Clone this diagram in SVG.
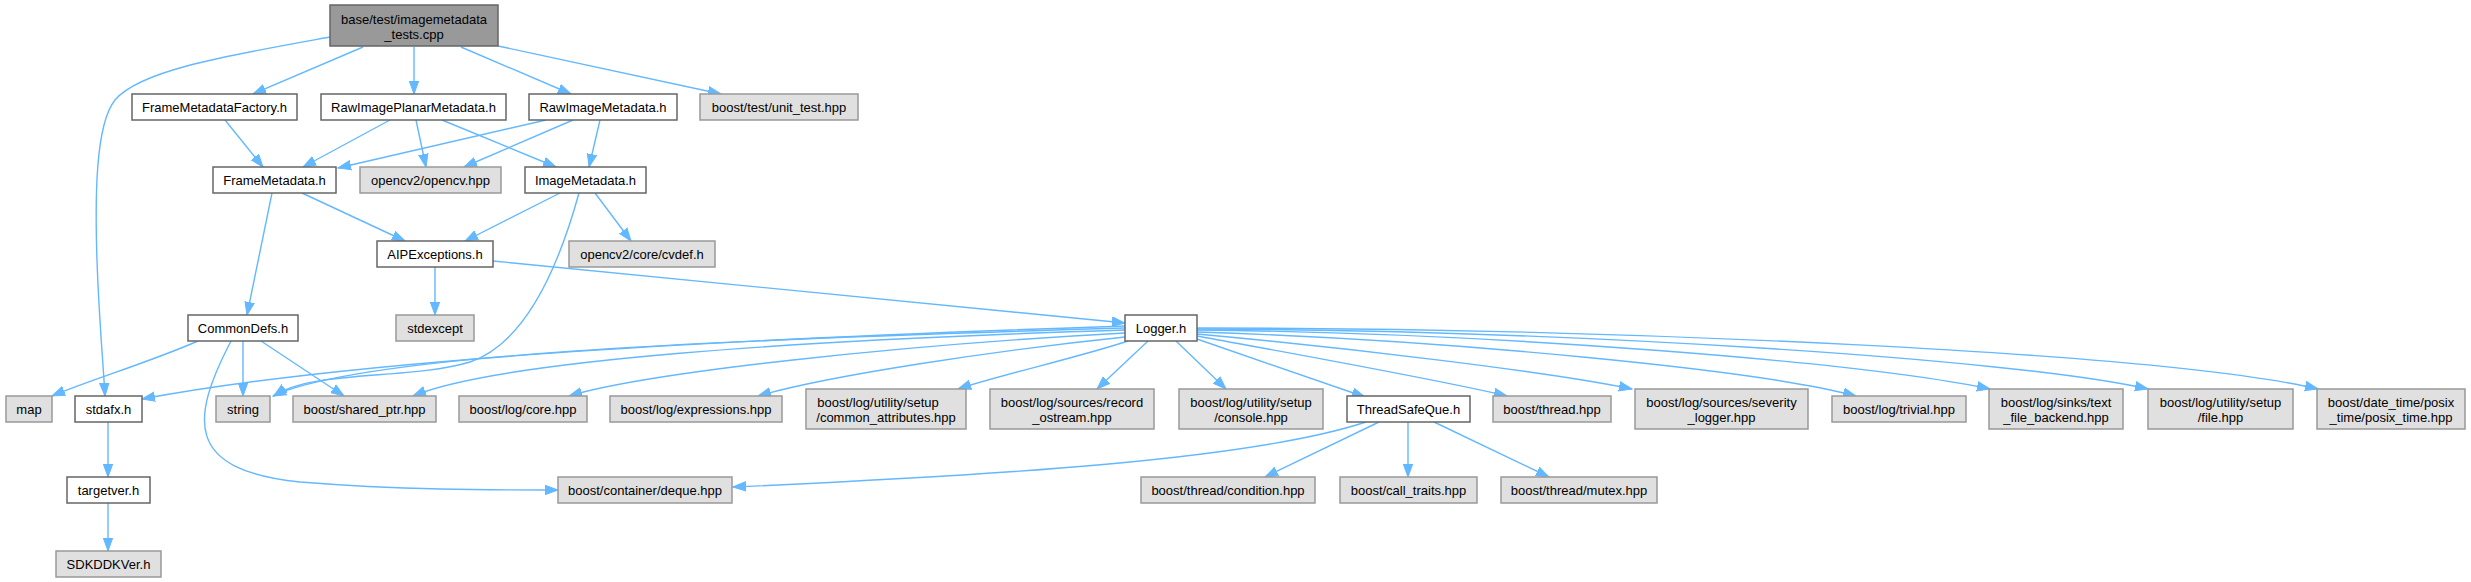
<svg xmlns="http://www.w3.org/2000/svg" width="2471" height="582" viewBox="0 0 2471 582">
<style>
.n rect{fill:#fff;stroke:#666;stroke-width:1.5}
.g rect{fill:#e0e0e0;stroke:#999;stroke-width:1.5}
.r rect{fill:#999;stroke:#666;stroke-width:1.5}
text{font-family:"Liberation Sans",Arial,sans-serif;font-size:13px;fill:#000;text-anchor:middle}
#edges path{fill:none;stroke:#63b8ff;stroke-width:1.4;marker-end:url(#a)}
</style>
<defs>
<marker id="a" markerUnits="userSpaceOnUse" markerWidth="14" markerHeight="12" refX="13" refY="6" orient="auto"><path d="M0,1.3 L13,6 L0,10.7 z" fill="#63b8ff" stroke="#63b8ff" stroke-width="1"/></marker>
</defs>
<rect width="2471" height="582" fill="#fff"/>
<g id="edges">
<path d="M363,47 L253,94"/>
<path d="M414,47 L414,94"/>
<path d="M461,47 L571,94"/>
<path d="M498,46 L721,94"/>
<path d="M330,37 C230,55 140,70 115,100 C95,125 95,200 97,260 C99,320 103,360 105,396"/>
<path d="M225,120 L263,167"/>
<path d="M390,120 L303,167"/>
<path d="M416,120 L426,167"/>
<path d="M442,120 L556,167"/>
<path d="M546,120 L338,168"/>
<path d="M573,120 L464,167"/>
<path d="M600,120 L589,167"/>
<path d="M302,193 L405,241"/>
<path d="M272,193 L247,315"/>
<path d="M560,193 L465,241"/>
<path d="M595,193 L631,241"/>
<path d="M579,193 C555,280 520,345 470,362 C410,380 310,370 274,396"/>
<path d="M435,267 L435,315"/>
<path d="M493,261 L1125,323"/>
<path d="M198,341 C150,362 90,380 52,396"/>
<path d="M243,341 L243,396"/>
<path d="M261,341 L344,396"/>
<path d="M231,341 C190,420 185,470 300,482 C400,490 490,490 558,490"/>
<path d="M1125,326 C700,340 350,360 142,399"/>
<path d="M1125,328 C700,340 360,355 273,396"/>
<path d="M1125,330 C800,340 500,360 413,396"/>
<path d="M1125,333 C900,345 650,372 569,396"/>
<path d="M1125,337 C1000,350 830,375 758,396"/>
<path d="M1128,341 C1080,357 1000,375 958,389"/>
<path d="M1148,341 L1097,389"/>
<path d="M1176,341 L1226,389"/>
<path d="M1197,339 L1365,397"/>
<path d="M1197,336 C1300,355 1440,380 1507,396"/>
<path d="M1197,334 C1350,348 1550,372 1632,389"/>
<path d="M1197,332 C1450,340 1760,370 1856,396"/>
<path d="M1197,330 C1500,333 1860,362 1990,389"/>
<path d="M1197,329 C1560,330 2010,358 2148,389"/>
<path d="M1197,328 C1610,328 2160,352 2318,389"/>
<path d="M1366,422 C1250,460 1000,475 733,487"/>
<path d="M1379,422 L1265,477"/>
<path d="M1408,422 L1408,477"/>
<path d="M1434,422 L1549,477"/>
<path d="M108,422 L108,477"/>
<path d="M108,503 L108,551"/>
</g>
<g id="root" class="r"><rect x="330" y="5" width="168" height="41"/><text x="414" y="23.5">base/test/imagemetadata</text><text x="414" y="38.5">_tests.cpp</text></g>
<g id="FrameMetadataFactory" class="n"><rect x="132" y="94" width="165" height="26"/><text x="214.5" y="111.5">FrameMetadataFactory.h</text></g>
<g id="RawImagePlanarMetadata" class="n"><rect x="321" y="94" width="185" height="26"/><text x="413.5" y="111.5">RawImagePlanarMetadata.h</text></g>
<g id="RawImageMetadata" class="n"><rect x="529" y="94" width="148" height="26"/><text x="603" y="111.5">RawImageMetadata.h</text></g>
<g id="unit_test" class="g"><rect x="700" y="94" width="158" height="26"/><text x="779" y="111.5">boost/test/unit_test.hpp</text></g>
<g id="FrameMetadata" class="n"><rect x="213" y="167" width="123" height="26"/><text x="274.5" y="184.5">FrameMetadata.h</text></g>
<g id="opencv" class="g"><rect x="360" y="167" width="141" height="26"/><text x="430.5" y="184.5">opencv2/opencv.hpp</text></g>
<g id="ImageMetadata" class="n"><rect x="525" y="167" width="121" height="26"/><text x="585.5" y="184.5">ImageMetadata.h</text></g>
<g id="AIPExceptions" class="n"><rect x="377" y="241" width="116" height="26"/><text x="435" y="258.5">AIPExceptions.h</text></g>
<g id="cvdef" class="g"><rect x="569" y="241" width="146" height="26"/><text x="642" y="258.5">opencv2/core/cvdef.h</text></g>
<g id="CommonDefs" class="n"><rect x="188" y="315" width="110" height="26"/><text x="243" y="332.5">CommonDefs.h</text></g>
<g id="stdexcept" class="g"><rect x="396" y="315" width="78" height="26"/><text x="435" y="332.5">stdexcept</text></g>
<g id="Logger" class="n"><rect x="1125" y="315" width="72" height="26"/><text x="1161" y="332.5">Logger.h</text></g>
<g id="map" class="g"><rect x="6" y="396" width="46" height="26"/><text x="29" y="413.5">map</text></g>
<g id="stdafx" class="n"><rect x="75" y="396" width="67" height="26"/><text x="108.5" y="413.5">stdafx.h</text></g>
<g id="string" class="g"><rect x="216" y="396" width="54" height="26"/><text x="243" y="413.5">string</text></g>
<g id="shared_ptr" class="g"><rect x="293" y="396" width="143" height="26"/><text x="364.5" y="413.5">boost/shared_ptr.hpp</text></g>
<g id="core" class="g"><rect x="459" y="396" width="128" height="26"/><text x="523" y="413.5">boost/log/core.hpp</text></g>
<g id="expressions" class="g"><rect x="610" y="396" width="172" height="26"/><text x="696" y="413.5">boost/log/expressions.hpp</text></g>
<g id="common_attributes" class="g"><rect x="806" y="389" width="160" height="40"/><text x="878" y="406.5">boost/log/utility/setup</text><text x="886" y="421.5">/common_attributes.hpp</text></g>
<g id="record_ostream" class="g"><rect x="990" y="389" width="164" height="40"/><text x="1072" y="406.5">boost/log/sources/record</text><text x="1072" y="421.5">_ostream.hpp</text></g>
<g id="console" class="g"><rect x="1179" y="389" width="144" height="40"/><text x="1251" y="406.5">boost/log/utility/setup</text><text x="1251" y="421.5">/console.hpp</text></g>
<g id="ThreadSafeQue" class="n"><rect x="1347" y="396" width="123" height="26"/><text x="1408.5" y="413.5">ThreadSafeQue.h</text></g>
<g id="thread" class="g"><rect x="1493" y="396" width="118" height="26"/><text x="1552" y="413.5">boost/thread.hpp</text></g>
<g id="severity_logger" class="g"><rect x="1635" y="389" width="173" height="40"/><text x="1721.5" y="406.5">boost/log/sources/severity</text><text x="1721.5" y="421.5">_logger.hpp</text></g>
<g id="trivial" class="g"><rect x="1832" y="396" width="134" height="26"/><text x="1899" y="413.5">boost/log/trivial.hpp</text></g>
<g id="text_file_backend" class="g"><rect x="1989" y="389" width="134" height="40"/><text x="2056" y="406.5">boost/log/sinks/text</text><text x="2056" y="421.5">_file_backend.hpp</text></g>
<g id="file" class="g"><rect x="2148" y="389" width="145" height="40"/><text x="2220.5" y="406.5">boost/log/utility/setup</text><text x="2220.5" y="421.5">/file.hpp</text></g>
<g id="posix_time" class="g"><rect x="2317" y="389" width="148" height="40"/><text x="2391" y="406.5">boost/date_time/posix</text><text x="2391" y="421.5">_time/posix_time.hpp</text></g>
<g id="targetver" class="n"><rect x="67" y="477" width="83" height="26"/><text x="108.5" y="494.5">targetver.h</text></g>
<g id="SDKDDKVer" class="g"><rect x="56" y="551" width="105" height="26"/><text x="108.5" y="568.5">SDKDDKVer.h</text></g>
<g id="deque" class="g"><rect x="558" y="477" width="174" height="26"/><text x="645" y="494.5">boost/container/deque.hpp</text></g>
<g id="condition" class="g"><rect x="1141" y="477" width="174" height="26"/><text x="1228" y="494.5">boost/thread/condition.hpp</text></g>
<g id="call_traits" class="g"><rect x="1340" y="477" width="137" height="26"/><text x="1408.5" y="494.5">boost/call_traits.hpp</text></g>
<g id="mutex" class="g"><rect x="1501" y="477" width="156" height="26"/><text x="1579" y="494.5">boost/thread/mutex.hpp</text></g>
</svg>
